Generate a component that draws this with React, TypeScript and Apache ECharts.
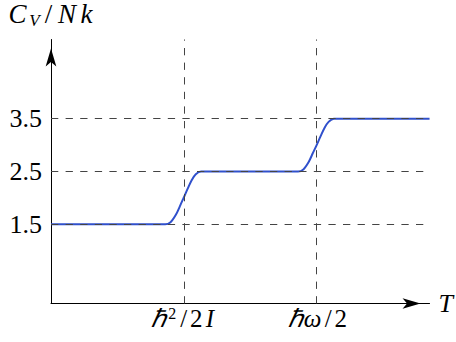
import React, { useEffect, useRef } from "react";
import * as echarts from "echarts";

// Curve: temperature (in units where the two marks sit at 1 and 2) and C_V/Nk
const temperature = [0, 0.86, 0.9, 0.94, 0.97, 1.0, 1.03, 1.06, 1.09, 1.13, 1.86, 1.9, 1.94, 1.97, 2.0, 2.03, 2.06, 2.09, 2.13, 2.85];
const heatCapacity = [1.5, 1.5, 1.54, 1.68, 1.84, 2.01, 2.18, 2.34, 2.45, 2.5, 2.5, 2.54, 2.68, 2.84, 3.0, 3.17, 3.33, 3.44, 3.5, 3.5];

// Axis ticks and labels
const yTicks = [1.5, 2.5, 3.5];
const xMarks = [1, 2];
const xMarkLabels = ["{h|ℏ}{sup|2}{sl|/}{d|2}{I|I}", "{h|ℏ}{w|ω}{sl|/}{d|2}"];
const xAxisName = "{T|T}";
const yAxisName = "{C|C}{V|V}{sl|/}{N|N}{k|k}";
const xMax = 2.85;
const yMax = 5;

const SERIF = "Liberation Serif";

export default function App() {
  const ref = useRef<HTMLDivElement>(null);

  useEffect(() => {
    if (!ref.current) return;
    const chart = echarts.init(ref.current, undefined, { renderer: "svg" });

    const base = { fontFamily: SERIF, fontSize: 25, lineHeight: 26, color: "#000" };
    const nameBase = { fontFamily: SERIF, fontSize: 27, lineHeight: 30, color: "#000" };
    const axisLineCommon = {
      show: true,
      onZero: true,
      symbol: ["none", "arrow"],
      symbolSize: [8, 18],
      symbolOffset: [0, -9],
      lineStyle: { color: "#000", width: 1 },
    };

    chart.setOption({
      animation: false,
      backgroundColor: "#fff",
      grid: { left: 51, right: 26, top: 38.5, bottom: 38.5, containLabel: false },
      xAxis: {
        type: "value",
        min: 0,
        max: xMax,
        axisLine: axisLineCommon,
        axisTick: { show: false },
        splitLine: { show: false },
        axisLabel: {
          customValues: xMarks,
          margin: 2,
          formatter: (v: number) => {
            const i = xMarks.indexOf(v);
            return i >= 0 ? xMarkLabels[i] : "";
          },
          rich: {
            h: { ...base, fontStyle: "italic", width: 17 },
            sup: { ...base, fontSize: 16, lineHeight: 16, verticalAlign: "top", width: 10 },
            sl: { ...base, width: 13 },
            d: { ...base, width: 12 },
            I: { ...base, fontStyle: "italic", width: 15 },
            w: { ...base, fontStyle: "italic", width: 18 },
          },
        },
        name: xAxisName,
        nameLocation: "end",
        nameGap: 9,
        nameTextStyle: {
          rich: { T: { ...base, fontSize: 26, fontStyle: "italic" } },
        },
      },
      yAxis: {
        type: "value",
        min: 0,
        max: yMax,
        axisLine: axisLineCommon,
        axisTick: { show: false },
        splitLine: { show: false },
        axisLabel: {
          customValues: yTicks,
          margin: 9,
          fontFamily: SERIF,
          fontSize: 26,
          color: "#000",
          formatter: (v: number) => v.toFixed(1),
        },
        name: yAxisName,
        nameLocation: "end",
        nameGap: 11,
        nameTextStyle: {
          align: "center",
          rich: {
            C: { ...nameBase, fontStyle: "italic", width: 18 },
            V: { ...nameBase, fontStyle: "italic", fontSize: 17, lineHeight: 18, verticalAlign: "bottom", width: 16 },
            sl: { ...nameBase, width: 12 },
            N: { ...nameBase, fontStyle: "italic", width: 25 },
            k: { ...nameBase, fontStyle: "italic", width: 14 },
          },
        },
      },
      series: [
        {
          type: "line",
          data: [],
          silent: true,
          z: 1,
          markLine: {
            silent: true,
            animation: false,
            symbol: ["none", "none"],
            label: { show: false },
            emphasis: { disabled: true },
            lineStyle: { color: "#444", width: 1, type: [7.3, 7.3] },
            data: [
              ...yTicks.map((v) => [{ coord: [0, v] }, { coord: [xMax, v] }]),
              ...xMarks.map((v) => [{ coord: [v, 0] }, { coord: [v, yMax] }]),
            ],
          },
        },
        {
          type: "line",
          data: temperature.map((t, i) => [t, heatCapacity[i]]),
          showSymbol: false,
          smooth: 0.3,
          silent: true,
          z: 3,
          lineStyle: { color: "#3050cc", width: 2 },
        },
      ],
    });

    return () => chart.dispose();
  }, []);

  return (
    <div
      ref={ref}
      style={{ position: "absolute", left: 0, top: 0, width: 456, height: 342 }}
    />
  );
}
